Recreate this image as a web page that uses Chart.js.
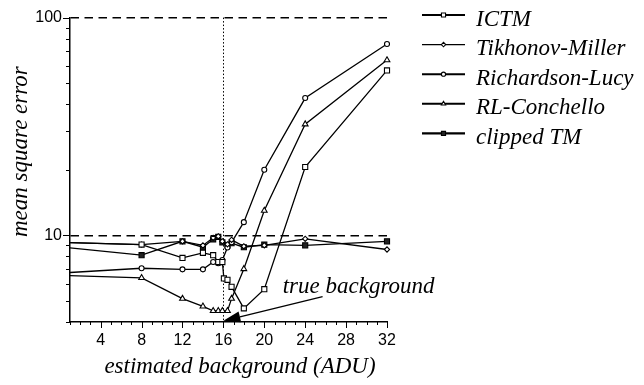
<!DOCTYPE html>
<html>
<head>
<meta charset="utf-8">
<script src="https://cdn.jsdelivr.net/npm/chart.js@4/dist/chart.umd.min.js"></script>
<style>
  html, body { margin: 0; padding: 0; background: #fff; }
  canvas { display: block; }
</style>
</head>
<body>
<canvas id="c" width="644" height="385"></canvas>
<script>
// Estimated background levels (ADU) at which each method was evaluated
const backgrounds     = [0, 8, 12, 14, 15, 15.5, 15.9, 16.4, 16.8, 18, 20, 24, 32];
const ictmBackgrounds = [0, 8, 12, 14, 15, 15.5, 15.9, 16.05, 16.4, 16.8, 18, 20, 24, 32];

// Mean square error per method
const ictm           = [9.29, 9.07, 7.88, 8.31, 8.11, 7.54, 7.54, 6.34, 6.25, 5.8, 4.62, 5.66, 20.6, 57.2];
const tikhonovMiller = [9.29, 9.07, 9.39, 8.99, 9.74, 9.9, 9.39, 9.1, 9.54, 8.91, 9.0, 9.64, 8.61];
const richardsonLucy = [6.71, 7.06, 6.98, 6.98, 7.54, 7.45, 7.7, 8.8, 9.29, 11.5, 20.0, 42.7, 75.6];
const rlConchello    = [6.56, 6.38, 5.12, 4.72, 4.5, 4.5, 4.5, 4.5, 5.12, 7.01, 13.0, 32.4, 63.8];
const clippedTM      = [8.85, 8.11, 9.39, 8.82, 9.59, 9.84, 9.29, 9.0, 9.2, 8.82, 9.07, 9.0, 9.39];

const seriesNames = ['ICTM', 'Tikhonov-Miller', 'Richardson-Lucy', 'RL-Conchello', 'clipped TM'];
const xTickLabels = [4, 8, 12, 16, 20, 24, 28, 32];
const yTickLabels = [10, 100];
const trueBackground = 16;

const SERIF = '"Liberation Serif", "Times New Roman", serif';
const SANS = '"Liberation Sans", Arial, sans-serif';

function points(xs, ys) {
  return xs.map((x, i) => ({ x: x, y: ys[i] }));
}

const lineStyle = {
  borderColor: '#000',
  borderWidth: 1.3,
  pointBorderColor: '#000',
  pointBorderWidth: 1.1,
  pointBackgroundColor: '#fff',
  tension: 0,
  fill: false,
  clip: { left: 0, top: 10, right: 10, bottom: 10 }
};

const datasets = [
  Object.assign({}, lineStyle, { label: seriesNames[0], data: points(ictmBackgrounds, ictm),
    pointStyle: 'rect', pointRadius: 3.6, legendRadius: 2.9, legendWidth: 2.2 }),
  Object.assign({}, lineStyle, { label: seriesNames[1], data: points(backgrounds, tikhonovMiller),
    pointStyle: 'rectRot', pointRadius: 2.6, legendRadius: 2.2, legendWidth: 1.3 }),
  Object.assign({}, lineStyle, { label: seriesNames[2], data: points(backgrounds, richardsonLucy),
    pointStyle: 'circle', pointRadius: 2.5, legendRadius: 2.1, legendWidth: 2 }),
  Object.assign({}, lineStyle, { label: seriesNames[3], data: points(backgrounds, rlConchello),
    pointStyle: 'triangle', pointRadius: 3.3, legendRadius: 2.5, legendWidth: 2 }),
  Object.assign({}, lineStyle, { label: seriesNames[4], data: points(backgrounds, clippedTM),
    pointStyle: 'rect', pointRadius: 3.6, pointBackgroundColor: '#222', legendRadius: 2.9, legendWidth: 2.4 })
];

// Outward tick marks: long at labelled values, short elsewhere
const tickMarks = {
  id: 'tickMarks',
  afterDraw(chart) {
    const { ctx, chartArea, scales: { x, y } } = chart;
    ctx.save();
    ctx.strokeStyle = '#000';
    ctx.lineWidth = 1;
    ctx.beginPath();
    x.ticks.forEach(t => {
      const px = Math.round(x.getPixelForValue(t.value)) + 0.5;
      const len = t.value % 4 === 0 ? 6 : 3;
      ctx.moveTo(px, chartArea.bottom);
      ctx.lineTo(px, chartArea.bottom + len);
    });
    y.ticks.forEach(t => {
      const mant = t.value / Math.pow(10, Math.floor(Math.log10(t.value) + 1e-9));
      if (Math.abs(mant - Math.round(mant)) > 1e-6) return;
      const py = Math.round(y.getPixelForValue(t.value)) + 0.5;
      const len = Math.round(mant) === 1 ? 7 : 4;
      ctx.moveTo(chartArea.left - len, py);
      ctx.lineTo(chartArea.left, py);
    });
    ctx.stroke();
    ctx.restore();
  }
};

// Arrow pointing at the true background level on the x axis
const trueBackgroundArrow = {
  id: 'trueBackgroundArrow',
  afterDatasetsDraw(chart) {
    const { ctx, scales: { x, y } } = chart;
    const tip = { x: x.getPixelForValue(trueBackground), y: y.getPixelForValue(4.05) };
    const tail = { x: x.getPixelForValue(25.7), y: y.getPixelForValue(5.23) };
    const dx = tail.x - tip.x, dy = tail.y - tip.y;
    const len = Math.hypot(dx, dy);
    const ux = dx / len, uy = dy / len;
    const headLen = 17, headHalf = 5.5;
    const bx = tip.x + ux * headLen, by = tip.y + uy * headLen;
    ctx.save();
    ctx.strokeStyle = '#000';
    ctx.fillStyle = '#000';
    ctx.lineWidth = 1.3;
    ctx.beginPath();
    ctx.moveTo(bx, by);
    ctx.lineTo(tail.x, tail.y);
    ctx.stroke();
    ctx.beginPath();
    ctx.moveTo(tip.x, tip.y);
    ctx.lineTo(bx - uy * headHalf, by + ux * headHalf);
    ctx.lineTo(bx + uy * headHalf, by - ux * headHalf);
    ctx.closePath();
    ctx.fill();
    ctx.font = 'italic 23px ' + SERIF;
    ctx.textAlign = 'left';
    ctx.textBaseline = 'alphabetic';
    ctx.fillText('true background', x.getPixelForValue(21.8), y.getPixelForValue(5.45));
    ctx.restore();
  }
};

// Axis titles
const axisTitles = {
  id: 'axisTitles',
  afterDraw(chart) {
    const { ctx, chartArea } = chart;
    ctx.save();
    ctx.fillStyle = '#000';
    ctx.font = 'italic 23px ' + SERIF;
    ctx.textAlign = 'center';
    ctx.textBaseline = 'alphabetic';
    ctx.fillText('estimated background (ADU)', chartArea.left + 170, chartArea.bottom + 51);
    ctx.translate(chartArea.left - 43, chartArea.top + 134);
    ctx.rotate(-Math.PI / 2);
    ctx.fillText('mean square error', 0, 0);
    ctx.restore();
  }
};

// Legend with a line segment and marker per method
const lineLegend = {
  id: 'lineLegend',
  afterDraw(chart) {
    const { ctx } = chart;
    const x0 = 422, x1 = 465, xm = 443.5, xt = 476;
    ctx.save();
    chart.data.datasets.forEach((ds, i) => {
      const ly = 15 + i * 29.6;
      ctx.strokeStyle = '#000';
      ctx.lineWidth = ds.legendWidth;
      ctx.beginPath();
      ctx.moveTo(x0, ly);
      ctx.lineTo(x1, ly);
      ctx.stroke();
      ctx.lineWidth = 1.1;
      ctx.fillStyle = ds.pointBackgroundColor;
      Chart.helpers.drawPoint(ctx, { pointStyle: ds.pointStyle, radius: ds.legendRadius, borderWidth: 1.1, rotation: 0 }, xm, ly);
      ctx.fillStyle = '#000';
      ctx.font = 'italic 23px ' + SERIF;
      ctx.textAlign = 'left';
      ctx.textBaseline = 'alphabetic';
      ctx.fillText(ds.label, xt, ly + 10.5);
    });
    ctx.restore();
  }
};

new Chart(document.getElementById('c'), {
  type: 'line',
  data: { datasets: datasets },
  options: {
    responsive: false,
    animation: false,
    events: [],
    layout: { padding: { left: 0, top: 14, right: 257, bottom: 0 } },
    plugins: { legend: { display: false }, tooltip: { enabled: false } },
    scales: {
      x: {
        type: 'linear',
        min: 1,
        max: 32,
        afterFit(scale) { scale.height = 63; },
        ticks: {
          stepSize: 1,
          autoSkip: false,
          maxRotation: 0,
          minRotation: 0,
          padding: 9,
          color: '#000',
          font: { family: SANS, size: 16 },
          callback: v => xTickLabels.includes(v) ? String(v) : ''
        },
        grid: {
          drawTicks: false,
          color: c => (c.tick && c.tick.value === trueBackground) ? '#000' : 'rgba(0,0,0,0)',
          lineWidth: 1
        },
        border: { display: true, color: '#000', width: 1.5, dash: [1.5, 2] }
      },
      y: {
        type: 'logarithmic',
        min: 4,
        max: 100,
        afterFit(scale) { scale.width = 70; },
        ticks: {
          autoSkip: false,
          padding: 8,
          color: '#000',
          font: { family: SANS, size: 16 },
          callback: v => yTickLabels.includes(v) ? String(v) : ''
        },
        grid: {
          drawTicks: false,
          color: c => (c.tick && yTickLabels.includes(c.tick.value)) ? '#000' : 'rgba(0,0,0,0)',
          lineWidth: 1.6
        },
        border: { display: true, color: '#000', width: 1.5, dash: [8.5, 5.5] }
      }
    }
  },
  plugins: [tickMarks, trueBackgroundArrow, axisTitles, lineLegend]
});
</script>
</body>
</html>
